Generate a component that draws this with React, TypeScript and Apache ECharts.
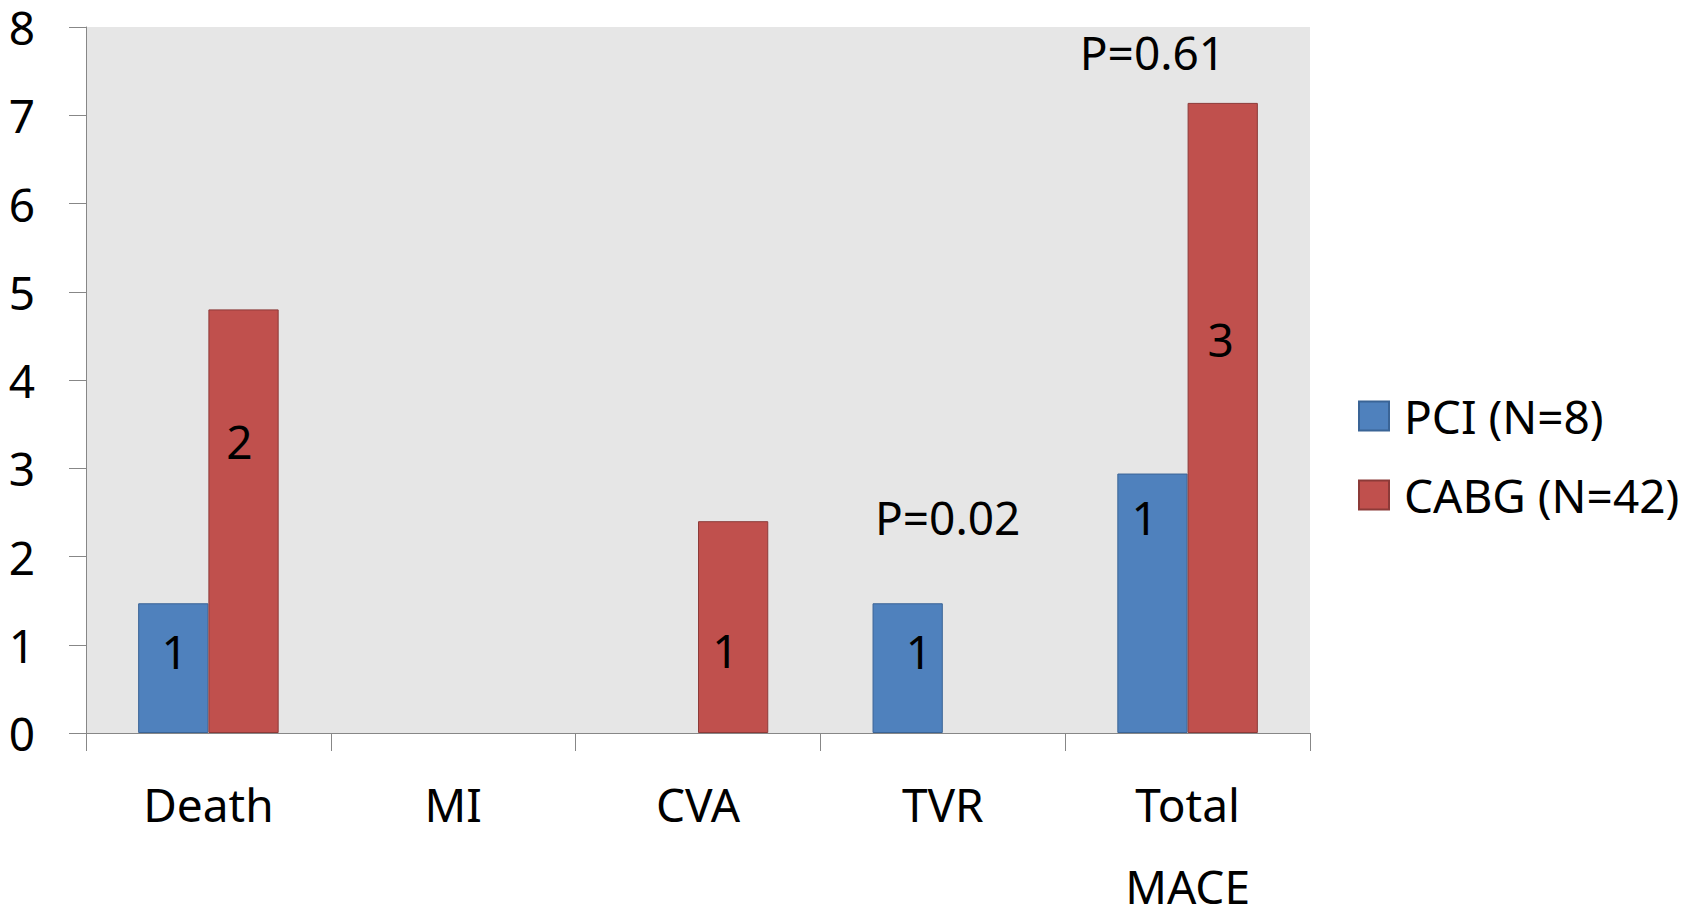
import React, { useEffect, useRef } from "react";
import * as echarts from "echarts";

// Outcome categories along the x axis
const categories = ["Death", "MI", "CVA", "TVR", "Total\nMACE"];

// Bar heights (event rate) per group
const pciRate = [1.47, 0, 0, 1.47, 2.94];
const cabgRate = [4.8, 0, 2.4, 0, 7.14];

// Event counts printed inside the bars
const pciCount = [1, 0, 0, 1, 1];
const cabgCount = [2, 0, 1, 0, 3];

// Placement of the count label inside each bar, as fractions of the bar box [across, down from top]
const pciLabelAt = [
  [0.52, 0.37],
  [0.5, 0.5],
  [0.5, 0.5],
  [0.66, 0.37],
  [0.39, 0.167],
];
const cabgLabelAt = [
  [0.44, 0.31],
  [0.5, 0.5],
  [0.39, 0.61],
  [0.5, 0.5],
  [0.47, 0.375],
];

// P-value annotations: category, height on value axis, text
const pCategories = ["TVR", "Total\nMACE"];
const pHeights = [2.45, 7.72];
const pTexts = ["P=0.02", "P=0.61"];

const yTicks = { min: 0, max: 8, interval: 1 };

const FONT = "'Noto Sans', 'Open Sans', sans-serif";
const FS = 46;

function buildSeriesData(rates: number[], counts: number[], at: number[][]) {
  return rates.map((v, i) => ({
    value: v,
    // an empty bar should leave no outline on the baseline
    itemStyle: v === 0 ? { borderWidth: 0 } : undefined,
    label: {
      show: counts[i] > 0,
      position: [`${at[i][0] * 100}%`, `${at[i][1] * 100}%`],
      formatter: String(counts[i]),
    },
  }));
}

export default function App() {
  const ref = useRef<HTMLDivElement>(null);

  useEffect(() => {
    if (!ref.current) return;
    const chart = echarts.init(ref.current, null, { renderer: "svg" });

    const axisGray = "#878787";
    const barLabel = {
      color: "#000",
      fontSize: FS,
      fontFamily: FONT,
      align: "center",
      verticalAlign: "middle",
    };

    chart.setOption({
      animation: false,
      backgroundColor: "#ffffff",
      textStyle: { fontFamily: FONT },
      grid: {
        left: 86,
        right: 397,
        top: 27,
        bottom: 176,
        show: true,
        backgroundColor: "#e6e6e6",
        borderWidth: 0,
        containLabel: false,
        outerBoundsMode: "none",
      },
      legend: {
        orient: "vertical",
        left: 1358,
        top: 393,
        padding: 0,
        itemWidth: 30,
        itemHeight: 29,
        itemGap: 33,
        icon: "rect",
        textStyle: {
          color: "#000",
          fontSize: FS,
          fontFamily: FONT,
          padding: [0, 0, 0, 10],
        },
        data: ["PCI (N=8)", "CABG (N=42)"],
      },
      xAxis: {
        type: "category",
        data: categories,
        axisLine: { show: true, lineStyle: { color: axisGray, width: 1 } },
        axisTick: {
          show: true,
          length: 18,
          lineStyle: { color: axisGray, width: 1 },
        },
        axisLabel: {
          interval: 0,
          color: "#000",
          fontSize: FS,
          fontFamily: FONT,
          lineHeight: 82,
          margin: 30,
        },
        splitLine: { show: false },
      },
      yAxis: {
        type: "value",
        min: yTicks.min,
        max: yTicks.max,
        interval: yTicks.interval,
        axisLine: { show: true, lineStyle: { color: axisGray, width: 1 } },
        axisTick: {
          show: true,
          length: 17,
          lineStyle: { color: axisGray, width: 1 },
        },
        axisLabel: {
          color: "#000",
          fontSize: FS,
          fontFamily: FONT,
          margin: 51,
        },
        splitLine: { show: false },
      },
      series: [
        {
          name: "PCI (N=8)",
          type: "bar",
          barGap: "0%",
          barCategoryGap: "42.6%",
          itemStyle: { color: "#4f81bd", borderColor: "#3a6496", borderWidth: 1 },
          label: barLabel,
          data: buildSeriesData(pciRate, pciCount, pciLabelAt),
          markPoint: {
            silent: true,
            symbol: "rect",
            symbolSize: 1,
            itemStyle: { color: "transparent" },
            label: {
              show: true,
              position: "inside",
              color: "#000",
              fontSize: FS,
              fontFamily: FONT,
            },
            data: pCategories.map((c, i) => ({
              coord: [c, pHeights[i]],
              label: {
                formatter: pTexts[i],
                offset: c === "TVR" ? [40, 0] : [0, 0],
              },
            })),
          },
        },
        {
          name: "CABG (N=42)",
          type: "bar",
          barGap: "0%",
          barCategoryGap: "42.6%",
          itemStyle: { color: "#c0504d", borderColor: "#8c3a38", borderWidth: 1 },
          label: barLabel,
          data: buildSeriesData(cabgRate, cabgCount, cabgLabelAt),
        },
      ],
    });

    return () => chart.dispose();
  }, []);

  return (
    <div
      ref={ref}
      style={{ position: "absolute", left: 0, top: 0, width: 1707, height: 909 }}
    />
  );
}
